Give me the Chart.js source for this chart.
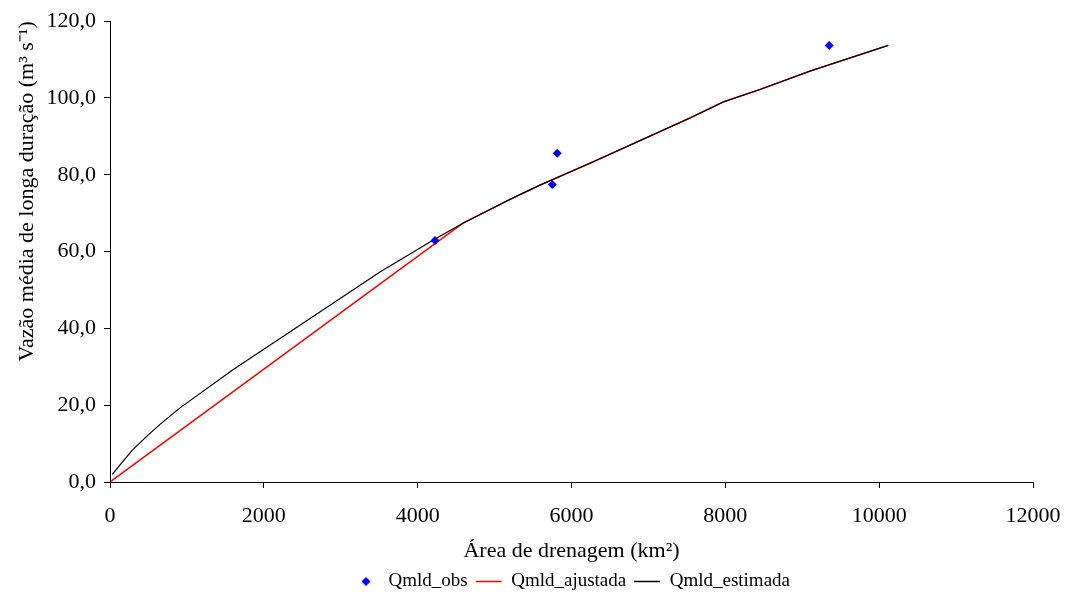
<!DOCTYPE html>
<html>
<head>
<meta charset="utf-8">
<script src="https://cdn.jsdelivr.net/npm/chart.js@4"></script>
<style>
  html, body { margin: 0; background: #fff; }
</style>
</head>
<body>
<canvas id="grafico" width="1066" height="595"></canvas>
<script>
// Dados
const obsArea = [4225, 5750, 5815, 9350];
const obsVazao = [62.9, 77.5, 85.6, 113.7];

const ajustadaArea = [0, 4589, 5200, 5590, 6240, 6890, 7540, 7975, 8450, 9100, 10118];
const ajustadaVazao = [0, 67.4, 73.6, 77.3, 83.0, 88.9, 94.8, 99.0, 102.2, 107.0, 113.7];

const estimadaArea = [30, 152, 282, 455, 650, 910, 1603, 2210, 2860, 3510, 4225, 4589, 5200, 5590, 6240, 6890, 7540, 7975, 8450, 9100, 10118];
const estimadaVazao = [2.0, 5.0, 8.1, 11.5, 15.0, 19.3, 29.3, 37.4, 46.0, 54.7, 63.3, 67.4, 73.6, 77.3, 83.0, 88.9, 94.8, 99.0, 102.2, 107.0, 113.7];

const xTickLabels = ['0', '2000', '4000', '6000', '8000', '10000', '12000'];
const yTickLabels = ['0,0', '20,0', '40,0', '60,0', '80,0', '100,0', '120,0'];

const pares = (xs, ys) => xs.map((x, i) => ({ x: x, y: ys[i] }));

// losango pequeno para a legenda
const losango = document.createElement('canvas');
losango.width = 10;
losango.height = 10;
const lc = losango.getContext('2d');
lc.fillStyle = '#0000ff';
lc.beginPath();
lc.moveTo(5, 0.5); lc.lineTo(9.5, 5); lc.lineTo(5, 9.5); lc.lineTo(0.5, 5);
lc.closePath();
lc.fill();

const legendStyles = [losango, 'line', 'line'];

Chart.defaults.font.family = "'Liberation Serif', 'Times New Roman', serif";
Chart.defaults.color = '#000';

const ctx = document.getElementById('grafico').getContext('2d');
new Chart(ctx, {
  type: 'scatter',
  data: {
    datasets: [
      {
        label: 'Qmld_obs',
        data: pares(obsArea, obsVazao),
        pointStyle: 'rectRot',
        pointRadius: 4.5,
        backgroundColor: '#0000ff',
        borderColor: '#0000ff',
        borderWidth: 0,
        order: 0
      },
      {
        label: 'Qmld_ajustada',
        data: pares(ajustadaArea, ajustadaVazao),
        showLine: true,
        pointRadius: 0,
        borderColor: '#ff0000',
        backgroundColor: '#ff0000',
        borderWidth: 1.5,
        order: 2
      },
      {
        label: 'Qmld_estimada',
        data: pares(estimadaArea, estimadaVazao),
        showLine: true,
        pointRadius: 0,
        borderColor: '#000000',
        backgroundColor: '#000000',
        borderWidth: 1.2,
        order: 1
      }
    ]
  },
  options: {
    responsive: false,
    animation: false,
    layout: { padding: { top: 20, right: 33, left: 0, bottom: -6 } },
    plugins: {
      tooltip: { enabled: false },
      legend: {
        position: 'bottom',
        fullSize: false,
        labels: {
          usePointStyle: true,
          pointStyleWidth: 26,
          padding: 8,
          font: { size: 19 },
          generateLabels: (chart) => chart.data.datasets.map((ds, i) => ({
            text: ds.label,
            fillStyle: ds.backgroundColor,
            strokeStyle: ds.borderColor,
            lineWidth: 1.5,
            pointStyle: legendStyles[i],
            hidden: false,
            datasetIndex: i
          }))
        }
      }
    },
    scales: {
      x: {
        type: 'linear',
        min: 0,
        max: 12000,
        afterFit: (s) => { s.height = 82; s.paddingRight = 0; s.paddingLeft = 0; },
        ticks: {
          stepSize: 2000,
          padding: 15,
          font: { size: 22 },
          maxRotation: 0,
          callback: (v) => xTickLabels[v / 2000]
        },
        grid: { drawOnChartArea: false, tickLength: 6, color: '#000' },
        border: { display: true, color: '#000' },
        title: {
          display: true,
          text: 'Área de drenagem (km²)',
          font: { size: 22 },
          padding: { top: 0, bottom: 0 }
        }
      },
      y: {
        min: 0,
        max: 120,
        afterFit: (s) => { s.width = 110; },
        ticks: {
          stepSize: 20,
          padding: 8,
          font: { size: 22 },
          callback: (v) => yTickLabels[v / 20]
        },
        grid: { drawOnChartArea: false, tickLength: 6, color: '#000' },
        border: { display: true, color: '#000' },
        title: {
          display: true,
          text: 'Vazão média de longa duração (m³ s⁻¹)',
          align: 'end',
          font: { size: 22 },
          padding: { top: 14, bottom: 0 }
        }
      }
    }
  }
});
</script>
</body>
</html>
